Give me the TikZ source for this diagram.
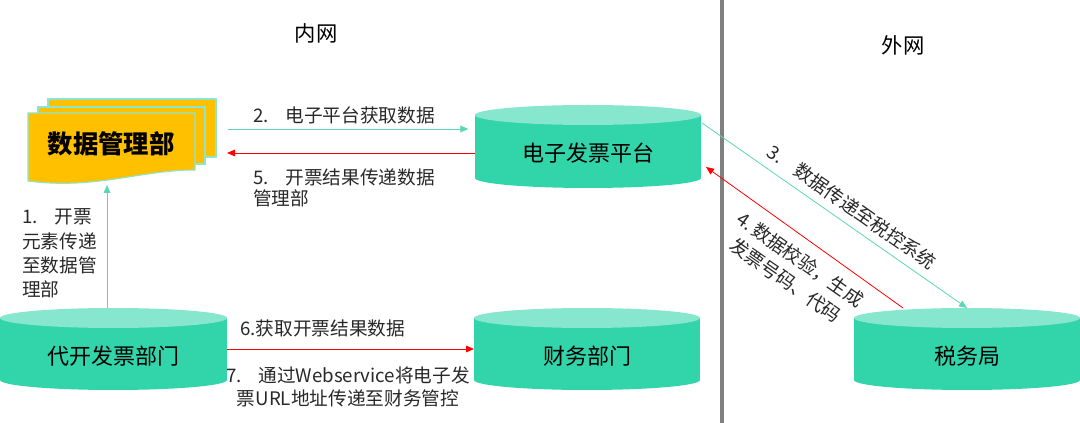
\documentclass[tikz,border=0pt]{standalone}
\usepackage{fontspec}
\setmainfont{Noto Sans CJK SC}
\usetikzlibrary{arrows.meta,calc}
\definecolor{cylbody}{RGB}{50,212,170}
\definecolor{cyltop}{RGB}{134,230,206}
\definecolor{docfill}{RGB}{255,192,0}
\definecolor{docline}{RGB}{140,230,205}
\definecolor{tealline}{RGB}{90,215,180}
\definecolor{divider}{RGB}{128,128,128}
\definecolor{labtext}{RGB}{40,40,40}
\tikzset{
  cylbodyfill/.style={fill=cylbody},
  cyltopfill/.style={fill=cyltop},
  docpage/.style={fill=docfill,draw=docline,line width=0.8pt},
  cyltext/.style={font=\fontsize{16.5}{20}\selectfont,text=black,inner sep=0pt},
  doctext/.style={font=\fontsize{19}{22}\selectfont\bfseries,text=black,inner sep=0pt},
  titletext/.style={font=\fontsize{16}{20}\selectfont,text=black,inner sep=0pt},
  labeltext/.style={font=\fontsize{14}{18}\selectfont,text=labtext,inner sep=0pt},
  tealarrow/.style={draw=tealline,line width=0.6pt,-{Triangle[length=6pt,width=5pt,fill=tealline]}},
  redarrow/.style={draw=red,line width=0.6pt,-{Triangle[length=6pt,width=5pt,fill=red]}},
  shapebox/.style={inner sep=0pt,outer sep=0pt,draw=none},
}
\newcommand\mkcyl[6]{%
  \fill[cylbodyfill] (#2-#3,#4) rectangle (#2+#3,#5);
  \fill[cylbodyfill] (#2,#5) ellipse[x radius=#3*0.75pt, y radius=7.5pt];
  \fill[cyltopfill] (#2,#4) ellipse[x radius=#3*0.75pt, y radius=7.5pt];
  \node[shapebox,minimum width=2*#3*0.75pt,minimum height=(#5-#4+20)*0.75pt] (#1) at (#2,{(#4+#5)/2}) {};
  \node[cyltext] (#1text) at ([yshift=-5pt]#1.center) {#6};
}
\begin{document}
\begin{tikzpicture}[x=0.75pt,y=-0.75pt]
\useasboundingbox (0,0) rectangle (1080,423);
% divider
\draw[divider,line width=3pt] (722,0) -- (722,423);
% titles
\node[titletext] (tin) at (316,33) {内网};
\node[titletext] (tout) at (903,45) {外网};
% document stack
\draw[docpage] (48,99) rectangle (216,157);
\draw[docpage] (38,107) rectangle (205,164);
\draw[docpage] (28,113) -- (195,113) -- (195,170) .. controls (140,170) and (95,190) .. (28,181) -- cycle;
\node[shapebox,minimum width=188*0.75pt,minimum height=83*0.75pt] (dm) at (122,140.5) {};
\node[doctext] (dmtext) at (111,144) {数据管理部};
% cylinders
\mkcyl{ep}{588}{113}{115}{178}{电子发票平台}
\mkcyl{dk}{113.5}{113.5}{318}{380}{代开发票部门}
\mkcyl{cw}{587}{113}{318}{380}{财务部门}
\mkcyl{sw}{967}{113}{318}{380}{税务局}
% connectors
\coordinate (p1) at (107,185);
\draw[tealarrow] (dk.north -| p1) -- (p1);
\coordinate (p2) at (228,129);
\draw[tealarrow,shorten >=5pt] (p2) -- (ep.west |- p2);
\coordinate (p5) at (227,153);
\draw[redarrow] (ep.west |- p5) -- (p5);
\draw[redarrow] (dk.east) -- (cw.west);
\coordinate (p3) at (702,123);
\draw[tealarrow] (p3) -- (sw.north);
\coordinate (p4a) at (903,308);
\coordinate (p4b) at (706,167);
\draw[redarrow] (p4a) -- (p4b);
% labels
\node[labeltext,anchor=west,align=left,font=\fontsize{14}{18.2}\selectfont] (l1) at (22,253.5) {1.\hspace{0.9em}开票\\元素传递\\至数据管\\理部};
\node[labeltext,anchor=west] (l2) at (253,115) {2.\hspace{0.9em}电子平台获取数据};
\node[labeltext,anchor=west,align=left,font=\fontsize{14}{15.8}\selectfont] (l5) at (253,187.5) {5.\hspace{0.9em}开票结果传递数据\\管理部};
\node[labeltext,anchor=west] (l6) at (240,328) {6.获取开票结果数据};
\node[labeltext,align=center,font=\fontsize{14}{17}\selectfont] (l7) at (348,387) {7.\hspace{0.9em}通过Webservice将电子发\\票URL地址传递至财务管控};
\node[labeltext,rotate=-35] (l3) at (852,207) {3.\hspace{0.9em}数据传递至税控系统};
\node[labeltext,rotate=-35,align=center,font=\fontsize{14}{19}\selectfont] (l4) at (793,270) {4.\,数据校验，生成\\发票号码、代码};
\end{tikzpicture}
\end{document}
